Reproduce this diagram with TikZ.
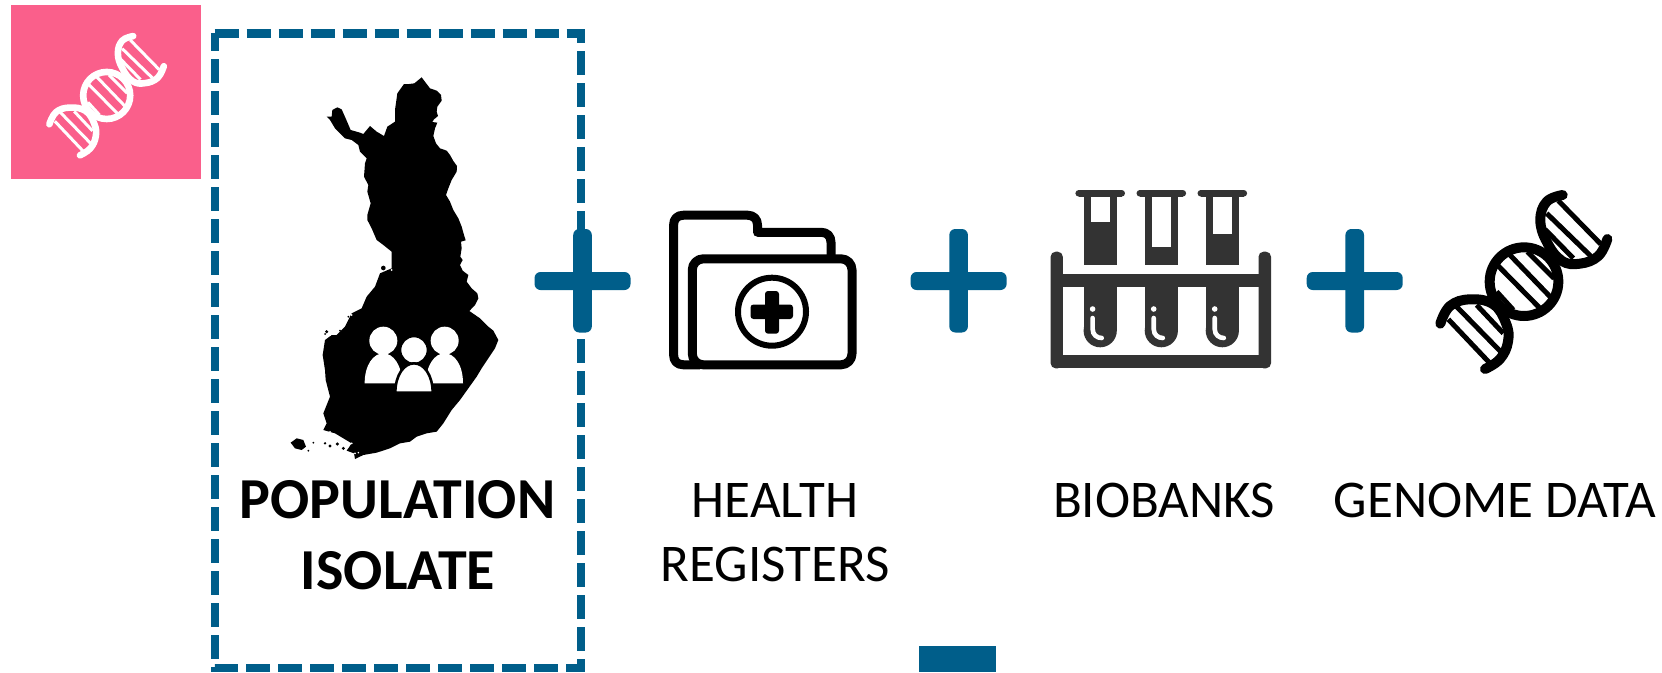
\documentclass[tikz,border=0pt]{standalone}
\usepackage{fontspec}
\setmainfont{Carlito}
\definecolor{pinkbg}{HTML}{FA5F8B}
\definecolor{tealblue}{HTML}{005E8A}
\definecolor{rackgrey}{HTML}{333333}
\tikzset{
  labeltext/.style={anchor=base,inner sep=0pt,text=black,font=\fontsize{53}{53}\selectfont},
  boldtext/.style={anchor=base,inner sep=0pt,text=black,font=\fontsize{58}{58}\selectfont\bfseries},
  plusbar/.style={fill=tealblue,draw=none,rounded corners=6pt},
  dashbox/.style={draw=tealblue,line width=8.3pt,dash pattern=on 24pt off 8pt},
  folderline/.style={draw=black,line width=9pt,line join=round},
  rackfill/.style={fill=rackgrey,draw=none}
}
\newcommand{\plussign}[1]{%
  \fill[plusbar] (#1-48,272) rectangle (#1+48,290);
  \fill[plusbar] (#1-9.3,229) rectangle (#1+9.3,332.5);
}
\newcommand{\dnaicon}[6]{% x y scale colour strand rung
  \begin{scope}[shift={(#1,#2)},scale=#3/3]
  \begin{scope}[shift={(-732,-336)}]
    \draw[#4,line width=#5pt,line cap=round] plot[smooth,tension=.7] coordinates {(848,75)(800,95)(781,150)(800,215)(845,272)(900,281)(955,258)(982,207)};
    \draw[#4,line width=#5pt,line cap=round] plot[smooth,tension=.7] coordinates {(481,461)(510,408)(570,388)(640,403)(678,460)(684,515)(660,567)(615,597)};
    \draw[#4,line width=#5pt] (732,335) circle[radius=103];
    \draw[#4,line width=#6pt]
      (835,92)--(962,222) (800,130)--(932,258) (795,178)--(880,265)
      (742,245)--(822,325) (685,250)--(815,385) (650,283)--(783,418) (650,365)--(700,420)
      (505,448)--(630,580) (530,410)--(662,545) (590,405)--(670,490);
  \end{scope}
  \end{scope}
}
\newcommand{\testtube}[2]{% centre, bottom of window
  \fill[rackfill] (#1-21.5,190) rectangle (#1+21.5,196.7);
  \fill[rackfill] (#1-21.5,193.3) circle[radius=3.3pt] (#1+21.5,193.3) circle[radius=3.3pt];
  \fill[rackfill] (#1-16.6,196) rectangle (#1+16.6,265);
  \fill[white] (#1-9.7,196.7) rectangle (#1+9.7,#2);
  \fill[rackfill] (#1-16.6,285) rectangle (#1+16.6,330.7);
  \fill[rackfill] (#1,330.7) circle[radius=16.6pt];
  \fill[white] (#1-7.6,309) circle[radius=2.8pt];
  \draw[white,line width=4.6pt,line cap=round] (#1-7.6,318) -- (#1-7.6,329) .. controls (#1-7.6,335) and (#1-3,338) .. (#1+1.5,338);
}
\begin{document}
\begin{tikzpicture}[x=1pt,y=-1pt]
\useasboundingbox (0,0) rectangle (1662,672);
% pink badge
\fill[pinkbg] (11,5) rectangle (201,179);
\dnaicon{106.7}{95.7}{0.685}{white}{6.6}{3}
% dashed frame
\draw[dashbox] (214.7,33.4) -- (581,33.4) -- (581,667.8) -- (214.7,667.8) -- cycle;
% Finland
\begin{scope}[shift={(280,60)},scale=1/3]
\fill[black] (425,52)--(437,68)--(450,85)--(470,92)--(483,105)--(485,122)--(472,140)--(470,155)--(474,168)--(462,178)--(457,186)--(472,188)--(465,205)--(460,228)--(468,250)--(480,265)--(500,272)--(510,285)--(520,303)--(531,318)--(530,335)--(515,360)--(505,385)--(498,405)--(510,425)--(520,450)--(535,475)--(545,500)--(552,525)--(557,541)--(543,545)--(545,565)--(541,590)--(548,600)--(540,615)--(548,632)--(565,645)--(560,665)--(575,685)--(592,700)--(595,715)--(585,735)--(568,753)--(600,775)--(625,800)--(640,812)--(655,840)--(645,865)--(625,895)--(605,925)--(590,950)--(565,985)--(540,1020)--(515,1050)--(490,1090)--(470,1115)--(440,1120)--(410,1130)--(390,1145)--(360,1150)--(330,1165)--(290,1178)--(250,1185)--(225,1197)--(222,1180)--(200,1172)--(215,1150)--(190,1135)--(165,1120)--(130,1110)--(140,1090)--(130,1060)--(150,1010)--(137,960)--(135,930)--(128,885)--(135,840)--(155,825)--(170,825)--(195,800)--(215,760)--(245,745)--(260,710)--(285,680)--(300,640)--(335,625)--(335,600)--(335,575)--(310,555)--(290,540)--(275,505)--(262,480)--(262,465)--(272,430)--(262,395)--(265,375)--(252,350)--(255,310)--(260,295)--(240,275)--(235,255)--(215,240)--(195,235)--(165,205)--(150,180)--(140,170)--(155,170)--(157,150)--(172,142)--(185,148)--(197,175)--(212,210)--(240,218)--(250,222)--(270,198)--(290,215)--(312,228)--(322,200)--(345,185)--(345,150)--(352,100)--(372,72)--(388,72)--(403,70)--cycle;
% islands and coastal specks
\fill[black] (32,1148)--(50,1135)--(70,1140)--(78,1160)--(65,1170)--(45,1165)--cycle;
\fill[black] (310,624) circle[radius=7];
\fill[black] (100,1148) circle[radius=3] (85,1172) circle[radius=3] (135,1150) circle[radius=4] (150,1158) circle[radius=5] (172,1152) circle[radius=5] (190,1165) circle[radius=5] (140,815) circle[radius=5] (135,822) circle[radius=3] (180,812) circle[radius=3] (205,770) circle[radius=3];
\fill[white] (215,1150) circle[radius=3] (180,1140) circle[radius=3] (160,1122) circle[radius=3] (195,1148) circle[radius=2.5] (225,1180) circle[radius=3] (150,825) circle[radius=3] (215,765) circle[radius=3] (335,630) circle[radius=3] (150,1115) circle[radius=2.5] (205,1160) circle[radius=2.5] (235,1178) circle[radius=2.5] (172,1128) circle[radius=2.5];
% people
\fill[white] (310,842) circle[radius=42];
\fill[white] (494,842) circle[radius=42];
\fill[white] (254,970) .. controls (254,915) and (280,880) .. (310,880) .. controls (340,880) and (366,915) .. (366,970) -- cycle;
\fill[white] (438,970) .. controls (438,915) and (464,880) .. (494,880) .. controls (524,880) and (549,915) .. (549,970) -- cycle;
\filldraw[fill=white,draw=black,line width=2.6pt] (402,870) circle[radius=42];
\filldraw[fill=white,draw=black,line width=2.6pt] (346,998) .. controls (346,945) and (372,910) .. (402,910) .. controls (432,910) and (458,945) .. (458,998) -- cycle;
\end{scope}
\plussign{582.5}
% folder
\draw[folderline] (831,262) -- (831,242.3) .. controls (831,236) and (827,232.3) .. (821,232.3) -- (757.5,232.3) -- (757.5,225) .. controls (757.5,219) and (753.5,215.2) .. (747.5,215.2) -- (683.6,215.2) .. controls (677,215.2) and (673.6,219) .. (673.6,225) -- (673.6,354.8) .. controls (673.6,361) and (677,364.8) .. (683.6,364.8) -- (700,364.8);
\draw[folderline,rounded corners=11pt] (692.3,258.8) -- (852,258.8) -- (852,364.8) -- (692.3,364.8) -- cycle;
\draw[draw=black,line width=6pt] (772,311.7) circle[radius=34pt];
\fill[black,rounded corners=3pt] (765,291) rectangle (779,333.7);
\fill[black,rounded corners=3pt] (750.5,304.5) rectangle (793,319);
\plussign{958.6}
% rack
\fill[rackfill,rounded corners=5pt] (1050.6,251.7) rectangle (1062.8,368.3);
\fill[rackfill,rounded corners=5pt] (1258.5,251.7) rectangle (1271,368.3);
\fill[rackfill] (1052,274) rectangle (1270,286.7);
\fill[rackfill] (1054,355.3) rectangle (1267,368.3);
\testtube{1100.2}{221.7}
\testtube{1161.3}{247.3}
\testtube{1222.3}{234.3}
\plussign{1354.7}
\dnaicon{1524}{282}{1}{black}{10}{5}
% labels
\node[boldtext] (pop) at (397.5,518.6) {POPULATION};
\node[boldtext] (iso) at (398,589) {ISOLATE};
\node[labeltext] (health) at (775,517.7) {HEALTH};
\node[labeltext] (reg) at (775,581) {REGISTERS};
\node[labeltext] (bio) at (1164,517.7) {BIOBANKS};
\node[labeltext] (gen) at (1495,517.7) {GENOME DATA};
% blue block
\fill[tealblue] (919,645.7) rectangle (996.3,672);
\end{tikzpicture}
\end{document}
